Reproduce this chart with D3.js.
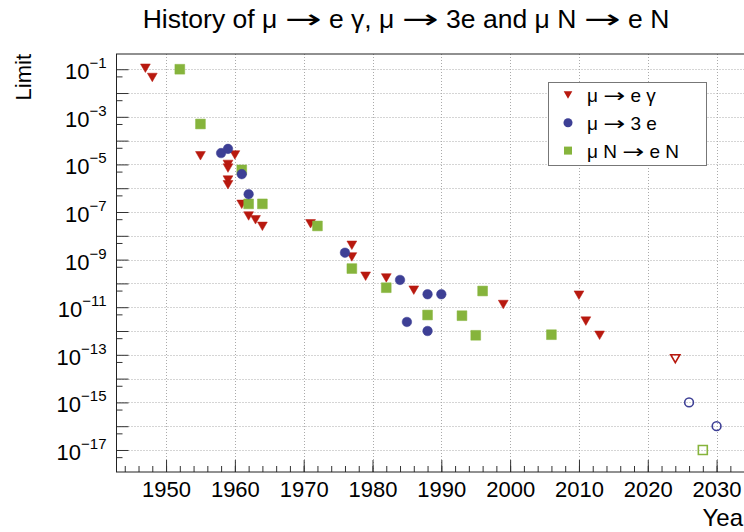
<!DOCTYPE html>
<html>
<head>
<meta charset="utf-8">
<script src="https://cdn.jsdelivr.net/npm/d3@7"></script>
<style>
body { margin: 0; background: #fff; }
svg { font-family: "Liberation Sans", Arial, Helvetica, sans-serif; }
.arrow { font-family: "DejaVu Sans", sans-serif; }
</style>
</head>
<body>
<div id="chart"></div>
<script>
const width = 744, height = 532;

// mu -> e gamma (limits, then projected)
const megYears = [1947, 1948, 1955, 1959, 1959, 1959, 1959, 1960, 1961, 1962, 1963, 1964, 1971, 1977, 1977, 1979, 1982, 1986, 1999, 2010, 2011, 2013];
const megLimits = [1.1e-1, 4.5e-2, 2.3e-5, 1.0e-5, 7e-6, 2.2e-6, 1.4e-6, 2.5e-5, 2.1e-7, 6.8e-8, 4.7e-8, 2.5e-8, 3.2e-8, 4e-9, 1.3e-9, 2e-10, 1.7e-10, 5.2e-11, 1.3e-11, 3.2e-11, 2.6e-12, 6.6e-13];
const megFutureYears = [2024];
const megFutureLimits = [6.9e-14];

// mu -> 3e
const m3eYears = [1958, 1959, 1961, 1962, 1976, 1984, 1985, 1988, 1988, 1990];
const m3eLimits = [3e-5, 4.5e-5, 3.9e-6, 5.6e-7, 1.95e-9, 1.4e-10, 2.4e-12, 3.5e-11, 1e-12, 3.5e-11];
const m3eFutureYears = [2026, 2030];
const m3eFutureLimits = [1e-15, 1e-16];

// mu N -> e N
const mneYears = [1952, 1955, 1961, 1962, 1964, 1972, 1977, 1982, 1988, 1993, 1995, 1996, 2006];
const mneLimits = [1e-1, 5e-4, 5.9e-6, 2.2e-7, 2.2e-7, 2.6e-8, 4.2e-10, 6.6e-11, 4.7e-12, 4.4e-12, 6.6e-13, 4.8e-11, 7e-13];
const mneFutureYears = [2028];
const mneFutureLimits = [1e-17];

const majorYears = d3.range(1950, 2031, 10);
const minorYears = d3.range(1944, 2035, 2);
const decades = d3.range(-17, 0);          // exponents with grid lines
const labelledDecades = d3.range(-17, 0, 2);

const red = "#b8190f", blue = "#3d3f95", green = "#86b43c";

const frame = { left: 116.5, top: 54, right: 751, bottom: 472 };

const x = d3.scaleLinear()
	.domain([1942.8, 2035.0])
	.range([frame.left, frame.right]);

const y = d3.scaleLog()
	.domain([Math.pow(10, -0.36), Math.pow(10, -17.925)])
	.range([frame.top, frame.bottom]);

// ROOT style down-pointing triangle, centred on its bounding box
const triangleDown = {
	draw(context, size) {
		const a = Math.sqrt(size / (Math.sqrt(3) / 4));
		const h = a * Math.sqrt(3) / 2;
		context.moveTo(-a / 2, -h / 2);
		context.lineTo(a / 2, -h / 2);
		context.lineTo(0, h / 2);
		context.closePath();
	}
};

const svg = d3.select("#chart")
	.append("svg")
	.attr("width", width)
	.attr("height", height);

svg.append("rect").attr("width", width).attr("height", height).attr("fill", "#fff");

// grid
const grid = svg.append("g")
	.attr("stroke", "#aaa")
	.attr("stroke-width", 1)
	.attr("stroke-dasharray", "1,2");

grid.selectAll(".vgrid")
	.data(majorYears)
	.enter()
	.append("line")
	.attr("x1", d => Math.round(x(d)) + 0.5)
	.attr("x2", d => Math.round(x(d)) + 0.5)
	.attr("y1", frame.top)
	.attr("y2", frame.bottom);

grid.selectAll(".hgrid")
	.data(decades)
	.enter()
	.append("line")
	.attr("x1", frame.left)
	.attr("x2", frame.right)
	.attr("y1", d => Math.round(y(Math.pow(10, d))) + 0.5)
	.attr("y2", d => Math.round(y(Math.pow(10, d))) + 0.5);

// x axis
const xAxis = svg.append("g")
	.attr("transform", `translate(0,${frame.bottom})`)
	.call(d3.axisBottom(x).tickValues(majorYears).tickSize(-12).tickSizeOuter(0).tickPadding(9).tickFormat(d3.format("d")));
xAxis.select(".domain").remove();
xAxis.selectAll("text").attr("font-size", 22).attr("fill", "#000");
xAxis.selectAll("line").attr("stroke", "#333");

const xMinor = svg.append("g")
	.attr("transform", `translate(0,${frame.bottom})`)
	.call(d3.axisBottom(x).tickValues(minorYears).tickSize(-6).tickSizeOuter(0).tickFormat(""));
xMinor.select(".domain").remove();
xMinor.selectAll("line").attr("stroke", "#333");

// y axis
const yAxis = svg.append("g")
	.attr("transform", `translate(${frame.left},0)`)
	.call(d3.axisLeft(y).tickValues(decades.map(d => Math.pow(10, d))).tickSize(-12).tickSizeOuter(0).tickFormat(""));
yAxis.select(".domain").remove();
yAxis.selectAll("line").attr("stroke", "#333");

const yMinor = svg.append("g")
	.attr("transform", `translate(${frame.left},0)`)
	.call(d3.axisLeft(y).tickValues(d3.range(-18, -1).map(d => 5 * Math.pow(10, d))).tickSize(-6).tickSizeOuter(0).tickFormat(""));
yMinor.select(".domain").remove();
yMinor.selectAll("line").attr("stroke", "#333");

const yLabels = svg.append("g")
	.selectAll("text")
	.data(labelledDecades)
	.enter()
	.append("text")
	.attr("x", frame.left - 10)
	.attr("y", d => y(Math.pow(10, d)) + 10)
	.attr("text-anchor", "end")
	.attr("font-size", 22);
yLabels.append("tspan").text("10");
yLabels.append("tspan")
	.attr("dy", -11)
	.attr("font-size", 15)
	.text(d => "\u2212" + (-d));

// frame
svg.append("rect")
	.attr("x", frame.left)
	.attr("y", frame.top)
	.attr("width", frame.right - frame.left)
	.attr("height", frame.bottom - frame.top)
	.attr("fill", "none")
	.attr("stroke", "#222")
	.attr("stroke-width", 1);

// markers
function pairs(xs, ys) { return xs.map((d, i) => ({ year: d, limit: ys[i] })); }

function drawSeries(data, type, size, color, open) {
	svg.append("g")
		.selectAll("path")
		.data(data)
		.enter()
		.append("path")
		.attr("transform", d => `translate(${x(d.year)},${y(d.limit)})`)
		.attr("d", d3.symbol().type(type).size(size))
		.attr("fill", open ? "none" : color)
		.attr("stroke", color)
		.attr("stroke-width", open ? 1.6 : 0.5);
}

drawSeries(pairs(megYears, megLimits), triangleDown, 42, red, false);
drawSeries(pairs(mneYears, mneLimits), d3.symbolSquare, 96, green, false);
drawSeries(pairs(m3eYears, m3eLimits), d3.symbolCircle, 72, blue, false);
drawSeries(pairs(megFutureYears, megFutureLimits), triangleDown, 36, red, true);
drawSeries(pairs(m3eFutureYears, m3eFutureLimits), d3.symbolCircle, 60, blue, true);
drawSeries(pairs(mneFutureYears, mneFutureLimits), d3.symbolSquare, 80, green, true);

// text with long arrows: parts split on the arrow
function arrowText(sel, parts, arrowLen) {
	parts.forEach((p, i) => {
		if (i > 0) {
			sel.append("tspan").text(" ");
			sel.append("tspan")
				.attr("class", "arrow")
				.attr("textLength", arrowLen)
				.attr("lengthAdjust", "spacingAndGlyphs")
				.text("\u2192");
			sel.append("tspan").text(" ");
		}
		sel.append("tspan").text(p);
	});
}

// legend
const legendItems = [["\u03bc", "e \u03b3"], ["\u03bc", "3 e"], ["\u03bc N", "e N"]];
const legendTypes = [triangleDown, d3.symbolCircle, d3.symbolSquare];
const legendSizes = [32, 64, 64];
const legendColors = [red, blue, green];

const legend = svg.append("g");
legend.append("rect")
	.attr("x", 548.5)
	.attr("y", 82.5)
	.attr("width", 158)
	.attr("height", 83)
	.attr("fill", "#fff")
	.attr("stroke", "#777");

const rows = legend.selectAll(".row")
	.data(legendItems)
	.enter()
	.append("g")
	.attr("transform", (d, i) => `translate(568,${95 + i * 27.8})`);
rows.append("path")
	.attr("d", (d, i) => d3.symbol().type(legendTypes[i]).size(legendSizes[i])())
	.attr("fill", (d, i) => legendColors[i]);
rows.append("text")
	.attr("x", 19)
	.attr("y", 7)
	.attr("font-size", 19)
	.each(function (d) { arrowText(d3.select(this), d, 22); });

// titles
const title = svg.append("text")
	.attr("x", 406)
	.attr("y", 28)
	.attr("text-anchor", "middle")
	.attr("font-size", 26.5);
arrowText(title, ["History of \u03bc", "e \u03b3, \u03bc", "3e and \u03bc N", "e N"], 37);

svg.append("text")
	.attr("transform", "translate(31,54) rotate(-90)")
	.attr("text-anchor", "end")
	.attr("font-size", 22)
	.text("Limit");

svg.append("text")
	.attr("x", frame.right)
	.attr("y", 526)
	.attr("text-anchor", "end")
	.attr("font-size", 24)
	.text("Year");
</script>
</body>
</html>
